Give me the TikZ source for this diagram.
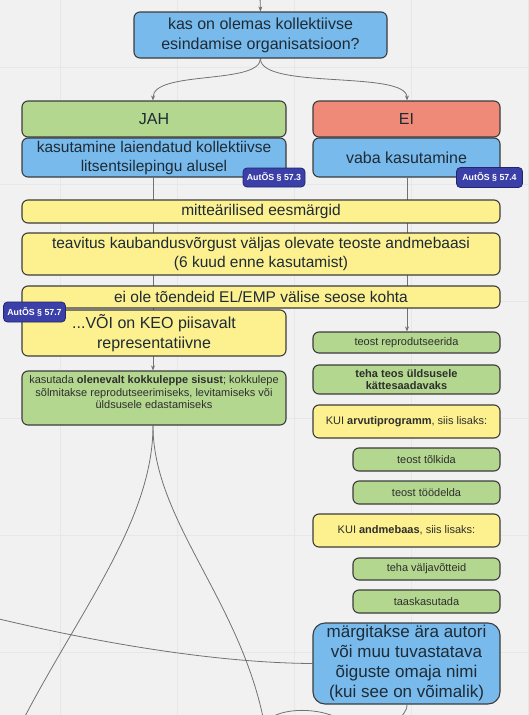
\documentclass[tikz,border=0pt]{standalone}
\usepackage{fontspec}
\setmainfont{Liberation Sans}
\usetikzlibrary{arrows.meta}
\pgfdeclarelayer{bg}
\pgfsetlayers{bg,main}
\definecolor{bgc}{HTML}{F1F1F1}
\definecolor{gridc}{HTML}{E7E7E7}
\definecolor{bluec}{HTML}{78BAEB}
\definecolor{greenc}{HTML}{B3D78F}
\definecolor{redc}{HTML}{F08A78}
\definecolor{yellowc}{HTML}{FCF08F}
\definecolor{badgec}{HTML}{3B3FA8}
\definecolor{badgeedge}{HTML}{23266E}
\definecolor{edgec}{HTML}{3C3C3C}
\definecolor{linec}{HTML}{727272}
\definecolor{txtc}{HTML}{1E2B36}
\definecolor{smalltxt}{HTML}{2E2E2E}
\tikzset{
  box/.style={draw=edgec, line width=1.1pt, rounded corners=6pt, inner sep=0pt, align=center, text=txtc},
  bluebox/.style={box, fill=bluec},
  greenbox/.style={box, fill=greenc},
  redbox/.style={box, fill=redc},
  yellowbox/.style={box, fill=yellowc},
  bigtxt/.style={font=\fontsize{16}{20}\selectfont},
  midtxt/.style={font=\fontsize{15.5}{19}\selectfont},
  smalltxtst/.style={font=\fontsize{11}{12.8}\selectfont, text=smalltxt},
  conn/.style={draw=linec, line width=0.8pt},
  arr/.style={-{Stealth[length=5pt,width=4pt]}},
  badge/.style={draw=badgeedge, fill=badgec, rounded corners=4pt, text=white,
    font=\fontsize{8.8}{10}\bfseries\selectfont, inner sep=0pt, line width=0.8pt}
}
\begin{document}
\begin{tikzpicture}[x=1pt,y=-1pt]
\useasboundingbox (0,0) rectangle (529,715);
% nodes
\node[bluebox, bigtxt, minimum width=253pt, minimum height=46pt] (top) at (260.5,35) {kas on olemas kollektiivse\\esindamise organisatsioon?};
\node[greenbox, bigtxt, minimum width=264pt, minimum height=36pt] (jah) at (154,119) {JAH};
\node[redbox, bigtxt, minimum width=187pt, minimum height=36pt] (ei) at (406.5,119) {EI};
\node[bluebox, midtxt, minimum width=264pt, minimum height=39pt] (jahb) at (154,157.5) {kasutamine laiendatud kollektiivse\\litsentsilepingu alusel};
\node[bluebox, bigtxt, minimum width=187pt, minimum height=39pt] (eib) at (406.5,157.5) {vaba kasutamine};
\node[yellowbox, midtxt, minimum width=478pt, minimum height=23pt] (mitte) at (261,211.5) {mitteärilised eesmärgid};
\node[yellowbox, midtxt, minimum width=478pt, minimum height=42pt] (teav) at (261,254) {teavitus kaubandusvõrgust väljas olevate teoste andmebaasi\\(6 kuud enne kasutamist)};
\node[yellowbox, midtxt, minimum width=478pt, minimum height=22pt] (eiole) at (261,297) {ei ole tõendeid EL/EMP välise seose kohta};
\node[yellowbox, bigtxt, minimum width=264pt, minimum height=46pt] (voi) at (154,333) {...VÕI on KEO piisavalt\\representatiivne};
\node[greenbox, smalltxtst, minimum width=187pt, minimum height=21pt] (repro) at (406.5,342.5) {teost reprodutseerida};
\node[greenbox, smalltxtst, minimum width=264pt, minimum height=54pt] (kasut) at (154,398) {kasutada \textbf{olenevalt kokkuleppe sisust}; kokkulepe\\sõlmitakse reprodutseerimiseks, levitamiseks või\\üldsusele edastamiseks\\[-1pt]\mbox{}};
\node[greenbox, smalltxtst, minimum width=187pt, minimum height=29pt] (teha) at (406.5,379.5) {\textbf{teha teos üldsusele}\\\textbf{kättesaadavaks}};
\node[yellowbox, smalltxtst, minimum width=187pt, minimum height=33pt] (kui1) at (406.5,421.5) {KUI \textbf{arvutiprogramm}, siis lisaks:};
\node[greenbox, smalltxtst, minimum width=147pt, minimum height=23pt] (tolk) at (426.5,459.5) {teost tõlkida};
\node[greenbox, smalltxtst, minimum width=147pt, minimum height=23pt] (tood) at (426.5,492.5) {teost töödelda};
\node[yellowbox, smalltxtst, minimum width=187pt, minimum height=33pt] (kui2) at (406.5,530.5) {KUI \textbf{andmebaas}, siis lisaks:};
\node[greenbox, smalltxtst, minimum width=147pt, minimum height=22pt] (valja) at (426.5,569) {teha väljavõtteid};
\node[greenbox, smalltxtst, minimum width=147pt, minimum height=23pt] (taas) at (426.5,601.5) {taaskasutada};
\node[bluebox, font=\fontsize{17}{20}\selectfont, rounded corners=12pt, minimum width=187pt, minimum height=81pt] (margi) at (406.5,663.5) {märgitakse ära autori\\või muu tuvastatava\\õiguste omaja nimi\\(kui see on võimalik)};
% badges
\node[badge, minimum width=62pt, minimum height=19pt] (b1) at (274,177.5) {AutÕS § 57.3};
\node[badge, minimum width=66pt, minimum height=20pt] (b2) at (489.5,177.5) {AutÕS § 57.4};
\node[badge, minimum width=62pt, minimum height=20pt] (b3) at (34.5,312) {AutÕS § 57.7};
% free ends
\coordinate (topin) at (260,-3);
\coordinate (lend) at (22,722);
\coordinate (rend) at (264,722);
\coordinate (wstart) at (-5,618);
\coordinate (mend) at (398,722);
\coordinate (arcA) at (266,722);
\coordinate (arcB) at (345,722);
\begin{pgfonlayer}{bg}
\fill[bgc] (0,0) rectangle (529,715);
\foreach \gx in {60,177,294,411,528} \draw[gridc, line width=0.6pt] (\gx,0) -- (\gx,715);
\foreach \gy in {67,184,301,418,535,652} \draw[gridc, line width=0.6pt] (0,\gy) -- (529,\gy);
\begin{scope}
\clip (0,0) rectangle (529,715);
\draw[conn, arr] (topin) -- (top.north);
\draw[conn, arr] (top.south) .. controls (260,85) and (153,70) .. (jah.north -| 153,0);
\draw[conn, arr] (top.south) .. controls (260,90) and (407,70) .. (ei.north -| 407,0);
\draw[conn, arr] (jahb.south -| 153,0) -- (kasut.north -| 153,0);
\draw[conn, arr] (eib.south -| 407,0) -- (repro.north -| 407,0);
\draw[conn] (kasut.south -| 153,0) .. controls (153,520) and (80,610) .. (lend);
\draw[conn] (kasut.south -| 153,0) .. controls (153,520) and (240,600) .. (rend);
\draw[conn] (wstart) .. controls (120,648) and (230,663) .. (margi.west);
\draw[conn] (margi.south -| 407,0) .. controls (407,712) and (402,714) .. (mend);
\draw[conn] (arcA) .. controls (278,707) and (322,706) .. (arcB);
\end{scope}
\end{pgfonlayer}
\end{tikzpicture}
\end{document}
